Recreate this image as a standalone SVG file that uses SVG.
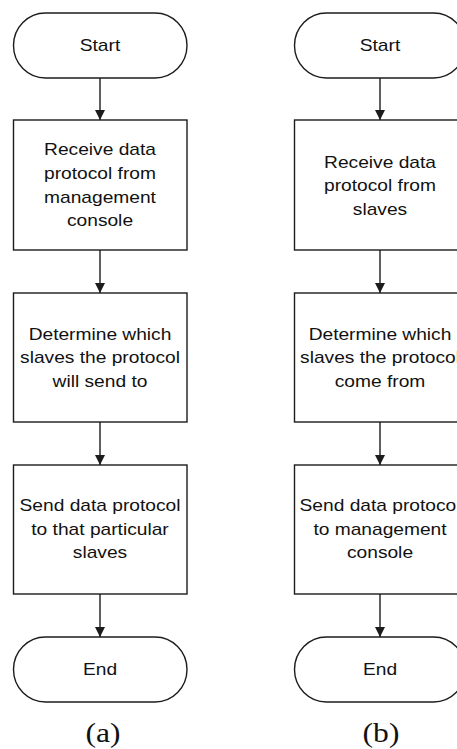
<svg xmlns="http://www.w3.org/2000/svg" width="457" height="749" viewBox="0 0 457 749">
  <style>
    .shape { fill: #ffffff; stroke: #1c1c1c; stroke-width: 1.4; }
    .edge { fill: none; stroke: #1c1c1c; stroke-width: 1.4; }
    .label { font-family: "Liberation Sans", Arial, sans-serif; font-size: 16.4px; fill: #111111; text-anchor: middle; }
    .caption { font-family: "Liberation Serif", "Times New Roman", serif; font-size: 27px; fill: #111111; text-anchor: middle; }
  </style>
  <defs>
    <marker id="arrow" viewBox="0 0 10 11" refX="10" refY="5" markerWidth="10" markerHeight="11" markerUnits="userSpaceOnUse" orient="auto">
      <path d="M0,0 L10,5 L0,10 z" fill="#1c1c1c"/>
    </marker>
  </defs>

  <rect width="457" height="749" fill="#ffffff"/>

  <!-- connectors -->
  <g id="connectors">
    <line class="edge" x1="100" y1="78" x2="100" y2="120" marker-end="url(#arrow)"/>
    <line class="edge" x1="100" y1="250" x2="100" y2="293" marker-end="url(#arrow)"/>
    <line class="edge" x1="100" y1="422" x2="100" y2="465" marker-end="url(#arrow)"/>
    <line class="edge" x1="100" y1="594" x2="100" y2="637" marker-end="url(#arrow)"/>
    <line class="edge" x1="380" y1="78" x2="380" y2="120" marker-end="url(#arrow)"/>
    <line class="edge" x1="380" y1="250" x2="380" y2="293" marker-end="url(#arrow)"/>
    <line class="edge" x1="380" y1="422" x2="380" y2="465" marker-end="url(#arrow)"/>
    <line class="edge" x1="380" y1="594" x2="380" y2="637" marker-end="url(#arrow)"/>
  </g>

  <!-- flow (a) -->
  <g id="a-start">
    <rect class="shape" x="13.5" y="13" width="173.5" height="65" rx="32" ry="32.5"/>
    <g transform="translate(100 0) scale(1.17 1)"><text class="label" x="0" y="51">Start</text></g>
  </g>
  <g id="a-receive">
    <rect class="shape" x="13.5" y="120" width="173.5" height="130"/>
    <g transform="translate(100 0) scale(1.17 1)">
      <text class="label" x="0" y="155.3">Receive data</text>
      <text class="label" x="0" y="179">protocol from</text>
      <text class="label" x="0" y="202.7">management</text>
      <text class="label" x="0" y="226.4">console</text>
    </g>
  </g>
  <g id="a-determine">
    <rect class="shape" x="13.5" y="293" width="173.5" height="129"/>
    <g transform="translate(100 0) scale(1.17 1)">
      <text class="label" x="0" y="340">Determine which</text>
      <text class="label" x="0" y="363.5">slaves the protocol</text>
      <text class="label" x="0" y="387">will send to</text>
    </g>
  </g>
  <g id="a-send">
    <rect class="shape" x="13.5" y="465" width="173.5" height="129"/>
    <g transform="translate(100 0) scale(1.17 1)">
      <text class="label" x="0" y="511.2">Send data protocol</text>
      <text class="label" x="0" y="534.7">to that particular</text>
      <text class="label" x="0" y="558.2">slaves</text>
    </g>
  </g>
  <g id="a-end">
    <rect class="shape" x="13.5" y="637" width="173.5" height="65" rx="32" ry="32.5"/>
    <g transform="translate(100 0) scale(1.17 1)"><text class="label" x="0" y="675">End</text></g>
  </g>
  <g id="a-caption">
    <g transform="translate(103 0) scale(1.17 1)"><text class="caption" x="0" y="742">(a)</text></g>
  </g>

  <!-- flow (b) -->
  <g id="b-start">
    <rect class="shape" x="294.5" y="13" width="171" height="65" rx="32" ry="32.5"/>
    <g transform="translate(380 0) scale(1.17 1)"><text class="label" x="0" y="51">Start</text></g>
  </g>
  <g id="b-receive">
    <rect class="shape" x="294.5" y="120" width="171" height="130"/>
    <g transform="translate(380 0) scale(1.17 1)">
      <text class="label" x="0" y="167.7">Receive data</text>
      <text class="label" x="0" y="191.2">protocol from</text>
      <text class="label" x="0" y="214.7">slaves</text>
    </g>
  </g>
  <g id="b-determine">
    <rect class="shape" x="294.5" y="293" width="171" height="129"/>
    <g transform="translate(380 0) scale(1.17 1)">
      <text class="label" x="0" y="340">Determine which</text>
      <text class="label" x="0" y="363.5">slaves the protocol</text>
      <text class="label" x="0" y="387">come from</text>
    </g>
  </g>
  <g id="b-send">
    <rect class="shape" x="294.5" y="465" width="171" height="129"/>
    <g transform="translate(380 0) scale(1.17 1)">
      <text class="label" x="0" y="511.2">Send data protocol</text>
      <text class="label" x="0" y="534.7">to management</text>
      <text class="label" x="0" y="558.2">console</text>
    </g>
  </g>
  <g id="b-end">
    <rect class="shape" x="294.5" y="637" width="171" height="65" rx="32" ry="32.5"/>
    <g transform="translate(380 0) scale(1.17 1)"><text class="label" x="0" y="675">End</text></g>
  </g>
  <g id="b-caption">
    <g transform="translate(381 0) scale(1.17 1)"><text class="caption" x="0" y="742">(b)</text></g>
  </g>
</svg>
